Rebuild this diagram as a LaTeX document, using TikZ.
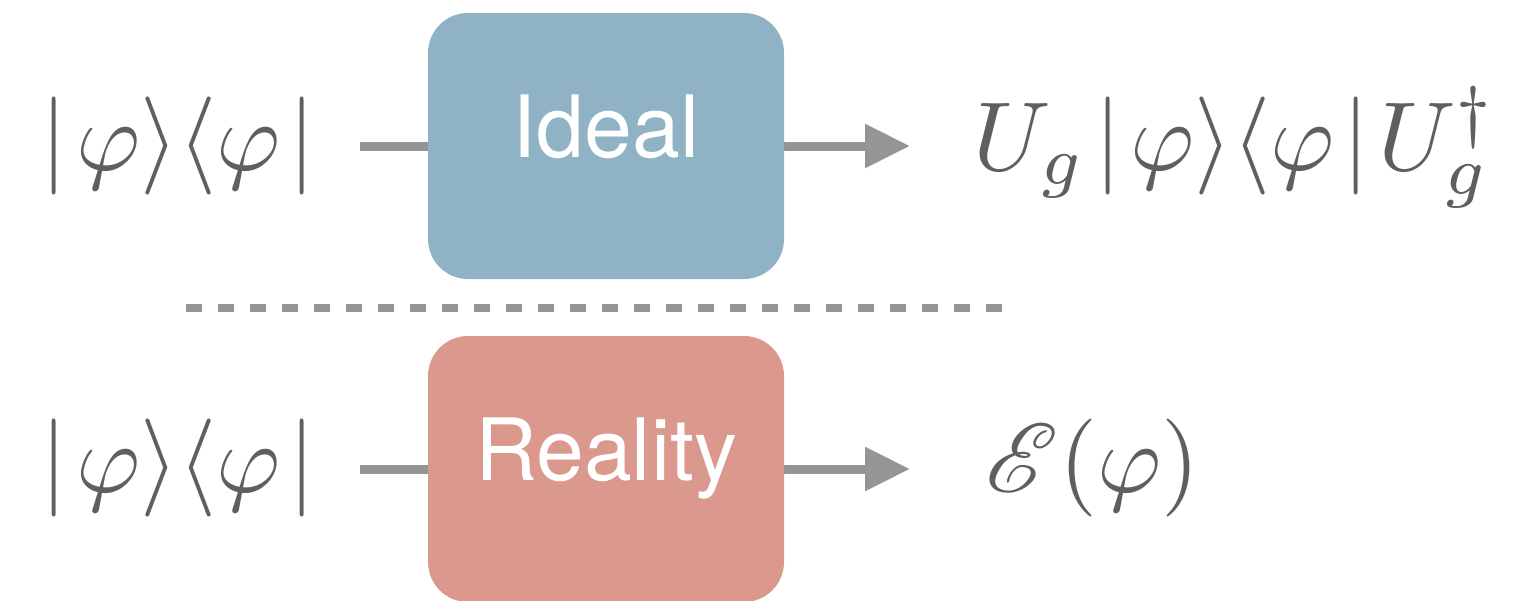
\documentclass[tikz,border=0pt]{standalone}
\usepackage{amsmath}
\usepackage{mathrsfs}
\usepackage{fontspec}
\setsansfont{TeX Gyre Heros}
\usetikzlibrary{arrows.meta}

\definecolor{inkgray}{HTML}{5F5F5F}
\definecolor{wiregray}{HTML}{959595}
\definecolor{idealblue}{HTML}{8FB3C5}
\definecolor{realred}{HTML}{DB998D}

% bars with a little air around them
\newcommand{\lbar}{\lvert\mkern1.5mu}
\newcommand{\rbar}{\mkern1.5mu\rvert}

\tikzset{
	box/.style={rounded corners=40pt, inner sep=0pt, text width=356pt, align=center,
		text height=144pt, text depth=122pt, text=white,
		font=\fontsize{86}{86}\selectfont\sffamily},
	ketbra/.style={inner sep=0pt, text=inkgray, font=\fontsize{10}{12}\selectfont,
		scale=9.8, transform shape},
	wire/.style={draw=wiregray, line width=9pt},
	flow/.style={wire, -{Triangle[length=45pt,width=42pt]}},
}

\begin{document}
\begin{tikzpicture}[x=1pt,y=-1pt]
			\useasboundingbox (0,0) rectangle (1538,600);
			% ideal channel
			\node[box, fill=idealblue]  at (606,146)  (ideal)  {Ideal};
			\node[ketbra, anchor=base east]  at (318,170)  (in1)  {$\lbar\varphi\rangle\langle\varphi\rbar$};
			\node[ketbra, anchor=base west]  at (972,170)  (out1)  {$U_g\mkern1.5mu\lbar\varphi\rangle\langle\varphi\rbar\mkern1.5mu U_g^\dagger$};
			\draw[wire, shorten <=42pt] (in1.east |- ideal.west) -- (ideal.west);
			\draw[flow, shorten >=62pt] (ideal.east) -- (ideal.east -| out1.west);
			% separator
			\draw[wire, line width=8pt, dash pattern=on 16pt off 16pt] (186,308) -- (1002,308);
			% real channel
			\node[box, fill=realred]  at (606,469)  (real)  {Reality};
			\node[ketbra, anchor=base east]  at (318,492)  (in2)  {$\lbar\varphi\rangle\langle\varphi\rbar$};
			\node[ketbra, anchor=base west]  at (984,492)  (out2)  {$\mathscr{E}(\varphi)$};
			\draw[wire, shorten <=42pt] (in2.east |- real.west) -- (real.west);
			\draw[flow, shorten >=74pt] (real.east) -- (real.east -| out2.west);
\end{tikzpicture}
\end{document}
